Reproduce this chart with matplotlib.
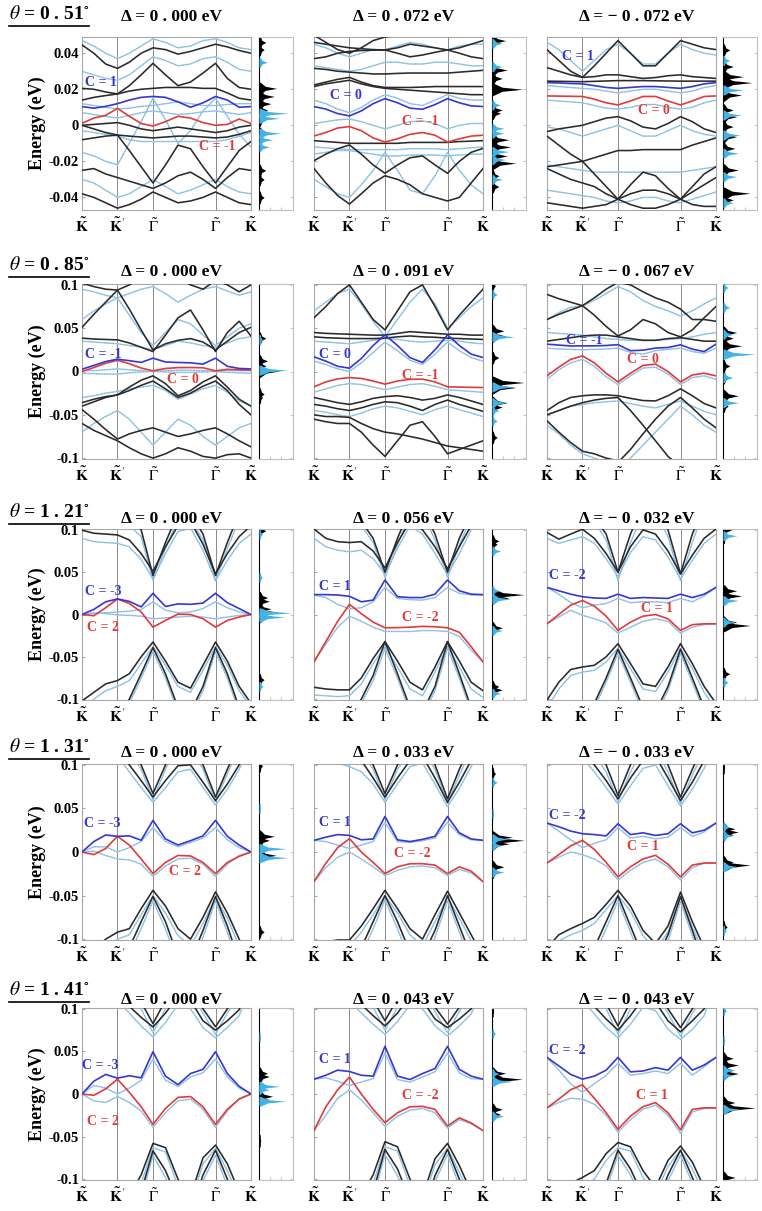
import matplotlib.pyplot as plt
from matplotlib.lines import Line2D

plt.rcParams['font.family'] = ['Liberation Serif', 'DejaVu Serif']
plt.rcParams['mathtext.fontset'] = 'stix'

# ---------------- data (energies in meV) ----------------
k_path = [0, 0.07, 0.14, 0.21, 0.28, 0.35, 0.42, 0.494, 0.568, 0.642, 0.716, 0.79, 0.86, 0.93, 1.0]
k_ticks = [0, 0.21, 0.42, 0.79, 1.0]
k_labels = [r'$\mathbf{\tilde{K}}$', r"$\mathbf{\tilde{K}}^{\prime}$", r'$\tilde{\Gamma}$',
            r'$\tilde{\Gamma}$', r'$\mathbf{\tilde{K}}$']

thetas = ['0 . 51', '0 . 85', '1 . 21', '1 . 31', '1 . 41']
deltas = [['0 . 000', '0 . 072', '\u2212 0 . 072'],
          ['0 . 000', '0 . 091', '\u2212 0 . 067'],
          ['0 . 000', '0 . 056', '\u2212 0 . 032'],
          ['0 . 000', '0 . 033', '\u2212 0 . 033'],
          ['0 . 000', '0 . 043', '\u2212 0 . 043']]

ylims = [(-47, 49), (-101, 101), (-101, 101), (-101, 101), (-101, 101)]
yticks_small = [-40, -20, 0, 20, 40]
ylabels_small = ['-0.04', '-0.02', '0', '0.02', '0.04']
yticks_big = [-100, -50, 0, 50, 100]
ylabels_big = ['-0.1', '-0.05', '0', '0.05', '0.1']

# ---- theta = 0.51 ----
p11_blue = [10.4, 9.5, 10.5, 12, 14, 15.5, 16, 15.5, 13, 10, 12.5, 16, 14, 10, 10.4]
p11_red = [1.1, 4, 5.5, 9.4, 5, 1, -0.4, 2, 5, 4, 1.5, 0, 0.5, 3.5, 1]
p11_black = [[44.6, 40, 34, 31.6, 35, 40, 43, 42, 39.5, 41, 43, 45, 43.5, 41.5, 40],
             [20.5, 20, 18.5, 17.4, 22, 28, 34.4, 28, 22, 24, 29, 34.4, 26, 21, 20],
             [14, 15.5, 16.5, 17.4, 19, 20, 20.5, 21, 21, 21, 20.5, 20.5, 18, 15, 14],
             [0, -2, -4, -5.4, -6, -6.5, -7, -6.5, -6, -6, -6.5, -7, -6.5, -5, -3],
             [0, 0.5, 1, 1.5, 0, -2, -3, -2, -1, -2, -3, -4, -3, -1, 0],
             [-8, -7, -6, -5.4, -14, -23, -32, -22, -11, -13, -23, -32, -23, -14, -9],
             [-25, -24, -27, -29, -31, -33, -35, -32, -28, -26, -30, -35, -29, -24, -25],
             [-38, -40, -43, -46, -44, -41, -37, -40, -43, -42, -40, -37, -40, -43, -44]]
p11_light = [[47, 44, 40, 37, 40, 44, 48, 46, 43, 44, 47, 48, 46, 43, 42],
             [30, 28, 26, 25, 28, 33, 38, 36, 33, 34, 37, 38, 35, 31, 30],
             [12, 11, 10, 9, 9.5, 10.5, 11, 12, 13, 12, 11, 11, 11.5, 12, 12],
             [7, 6, 5, 4, 5.5, 7, 8, 7, 6, 6.5, 7.5, 8, 7, 6, 7],
             [-3, -4, -5, -6, -8, -9, -9, -9, -9, -9, -9, -9, -8, -6, -4],
             [-15, -17, -20, -22, -10, 2, 15, 3, -10, -3, 8, 15, 5, -5, -12],
             [-30, -32, -36, -40, -38, -34, -30, -34, -38, -36, -33, -30, -34, -37, -38]]
p11_labels = [('C = 1', 0.02, 24, 'left'), ('C = -1', 0.8, -12, 'center')]
p11_dos_black = [(46, .2), (42, .15), (20.5, .52), (16, .45), (12, .35), (8.5, .25), (3, .2),
                 (-4.4, .35), (-8, .2), (-25, .2), (-30, .15), (-40, .15)]
p11_dos_blue = [(35, .25), (6.7, .85), (3.9, .6), (-4.4, .65), (-8, .4), (-12, .3)]
p11_gaps = []

p12_blue = [10.4, 9, 6.5, 5.2, 8, 12, 14.8, 12.5, 9.5, 8.9, 11.5, 14.8, 12.5, 10.8, 10.4]
p12_red = [-5.9, -4, -1.5, -0.7, -3, -7, -9.3, -7.5, -5, -4, -5.5, -9.3, -7.5, -6, -5.5]
p12_black = [[50, 46, 42, 40, 43, 47, 49, 50, 50, 50, 50, 50, 50, 50, 50],
             [37, 38, 40, 41, 41.5, 41.7, 41.8, 43, 45, 44, 43, 41.8, 43, 45, 47],
             [46, 45, 44, 43, 42.5, 42, 41.8, 40, 38, 39, 40.5, 41.8, 40, 38, 37],
             [31.6, 31, 30, 29.5, 29, 28.5, 28.5, 28.8, 29, 29, 29, 29, 29.5, 30, 30.5],
             [22.4, 24, 25.5, 26.6, 24, 22, 21, 21, 21, 21.2, 21.5, 21.5, 21.5, 21.5, 21.5],
             [21.5, 23, 24, 25, 23, 21.5, 20.5, 20, 19.5, 19, 18.5, 18, 17.5, 17, 17],
             [-8.5, -9, -9.5, -10, -10, -10, -10, -10, -9.5, -9.5, -9.5, -9.5, -9, -8.8, -8.5],
             [-19.6, -16, -13, -10.9, -16, -22, -26.6, -22, -18, -17, -22, -26.6, -20, -15, -12.8],
             [-24, -32, -39, -43.7, -38, -32, -28, -30, -33, -38, -40, -42, -40, -32, -24]]
p12_light = [[45, 43, 40, 38, 40, 42, 41.8, 44, 46, 45, 43, 41.8, 44, 45, 45],
             [33, 32, 31, 30, 31, 33, 35, 35, 34, 34, 35, 35, 34, 33, 33],
             [14, 12, 9, 7, 10, 14, 17, 15, 12, 11, 14, 17, 15, 14, 14],
             [1, 2, 3, 3.5, 2, 0, -2, 0, 2, 2.5, 1, -2, 0, 1, 1],
             [-12, -12.5, -13, -13.5, -13.5, -13.5, -13.5, -13.5, -13, -13, -13, -13.5, -13, -12.5, -12],
             [-16, -15, -14, -14, -15, -16, -17, -17, -16.5, -16.5, -16.5, -17, -16.5, -16, -16],
             [-30, -34, -38, -40, -33, -25, -15, -25, -36, -38, -28, -15, -25, -33, -38]]
p12_labels = [('C = 0', 0.095, 16.3, 'left'), ('C = -1', 0.63, 2, 'center')]
p12_dos_black = [(47, .4), (30.7, .45), (26, .3), (20, .9), (8.5, .3), (6.7, .25), (-8, .5),
                 (-12, .55), (-17, .45), (-21, .7), (-28, .2), (-34, .2)]
p12_dos_blue = [(45.5, .3), (32.6, .3), (11.3, .25), (-1.7, .35), (-4.4, .35), (-14.6, .5),
                (-19, .4), (-30, .3)]
p12_gaps = []

p13_blue = [23.7, 23.5, 23.2, 23, 22, 21, 20.5, 21, 21.5, 21.5, 21, 20.5, 21.5, 23, 23.7]
p13_red = [16.3, 16.2, 16.1, 16, 14.5, 12.5, 11.3, 13.5, 16, 16, 13.5, 11.3, 13.5, 16, 16.3]
p13_black = [[42, 36, 30, 26.6, 33, 40, 47, 40, 33, 33, 40, 47, 45, 43, 42],
             [32, 30, 28, 26.6, 27, 28, 28, 27, 26, 26.5, 27.5, 28, 27, 26.5, 26],
             [24.5, 24.4, 24.3, 24.2, 24.4, 24.6, 24.8, 24.8, 24.8, 24.7, 24.6, 24.5, 24.5, 24.5, 24.5],
             [-3.5, -2, -1, 0, 2, 4, 4.8, 2.5, -1, -2, 1, 4.8, 2, -2, -4],
             [-6, -11, -16, -20, -18, -16, -14, -14, -13.5, -13.5, -13.5, -13.5, -11, -9, -7],
             [-23, -22, -21, -20, -27, -34, -41, -33, -26, -28, -35, -41, -34, -27, -23],
             [-24, -27, -30, -32, -34, -38, -41, -38, -36, -36, -38, -41, -37, -33, -29],
             [-43, -44, -45, -46, -45, -44, -41, -44, -46, -46, -44, -41, -44, -45, -45]]
p13_light = [[46, 42, 36, 30, 36, 42, 45, 40, 34, 34, 40, 45, 42, 40, 39],
             [22, 21.5, 21, 20.5, 20, 19, 18, 19, 20, 20, 19, 18, 19, 21, 22],
             [14, 13.5, 13, 12.5, 11, 9.5, 9, 10, 11.5, 11.5, 10, 9, 10, 12.5, 14],
             [-1, -2, -4, -6, -4, -2, 0, -3, -6, -6, -3, 0, -3, -5, -6],
             [-22, -23, -24, -25, -26, -26, -26, -26, -26, -26, -26, -26, -25, -24, -23],
             [-36, -37, -38, -39, -40, -42, -43, -42, -40, -40, -42, -43, -41, -39, -37]]
p13_labels = [('C = 1', 0.09, 38, 'left'), ('C = 0', 0.63, 8, 'center')]
p13_dos_black = [(41.8, .2), (32.6, .3), (27, .6), (23.7, .85), (16.8, .55), (8.5, .3), (4.8, .4),
                 (-0.7, .3), (-6.3, .4), (-12.8, .35), (-24.8, .45), (-37.7, .8), (-41.4, .3)]
p13_dos_blue = [(36, .2), (19.6, .6), (5.7, .55), (-5.4, .5), (-15.5, .45), (-28.5, .4), (-43, .3)]
p13_gaps = []

# ---- theta = 0.85 ----
p21_blue = [2.7, 7, 11.5, 14.2, 12.5, 10.5, 15.4, 11, 10.4, 10, 8.5, 15.4, 6, 3.5, 3]
p21_red = [0, 4.5, 9.5, 13, 9, 4, 0.8, 3.5, 4.5, 4.6, 4.3, 0.8, 2.5, 2, 1.5]
p21_black = [[38.5, 37.5, 37, 36.5, 33, 28, 23, 42, 62, 71, 48, 23, 45, 58, 41],
             [51, 66, 80, 94, 72, 48, 25, 32, 36, 38, 34, 25, 35, 45, 51],
             [102, 98, 95, 94, 100, 108, 110, 110, 108, 100, 95, 105, 100, 92, 100],
             [-36, -32, -29, -27, -18, -10, -5, -14, -28, -22, -12, -5, -18, -32, -40],
             [-40, -35, -30, -27, -22, -16, -11, -20, -30, -25, -17, -11, -22, -38, -50],
             [-44, -55, -67, -78, -72, -68, -65, -70, -75, -72, -68, -65, -72, -80, -87],
             [-60, -68, -74, -80, -88, -95, -100, -95, -88, -92, -98, -100, -96, -95, -100]]
p21_light = [[-2, -2.5, -3, -3, -1.5, -0.5, 0, -0.5, -1, -1, -0.5, 0, -1, -1.5, -2],
             [1, 1, 2, 3, 2, 1, 0, 1, 1.5, 1.5, 1, 0, 1, 1, 1],
             [35, 34, 33, 32, 30, 28, 25, 30, 35, 33, 30, 28, 33, 38, 40],
             [60, 70, 78, 85, 65, 45, 30, 45, 60, 55, 42, 30, 40, 50, 55],
             [-30, -28, -25, -23, -20, -18, -16, -22, -32, -26, -20, -16, -24, -34, -40],
             [95, 92, 88, 85, 90, 95, 98, 90, 80, 88, 95, 98, 93, 88, 92],
             [-70, -60, -52, -45, -55, -70, -85, -70, -55, -62, -75, -85, -75, -65, -60]]
p21_labels = [('C = -1', 0.02, 19.2, 'left'), ('C = 0', 0.6, -8.8, 'center')]
p21_dos_black = [(38.5, .2), (12.3, .25), (6.5, .2), (0.5, .6), (-26, .15), (-30, .1)]
p21_dos_blue = [(37, .1), (1.5, .85)]
p21_gaps = []

p22_blue = [16.9, 12, 6, 3.8, 15, 30, 42.3, 30, 16, 10.4, 25, 42.3, 30, 20, 16.2]
p22_red = [-17.7, -12, -8.5, -7, -8, -11, -14.6, -11, -9, -8.8, -12, -17.7, -18, -18.3, -18.5]
p22_black = [[45, 44, 43.5, 43, 42.5, 42, 42, 44, 46, 45, 44, 43, 43, 42, 42],
             [40, 39, 38.5, 38, 38, 38, 38.5, 40, 41, 40, 39.5, 38.5, 38, 37.5, 37],
             [62, 75, 90, 100, 80, 60, 48, 70, 92, 100, 75, 48, 65, 80, 95],
             [-30, -33, -36, -38, -35, -31, -29, -28, -30, -33, -31, -27, -30, -34, -38],
             [-38, -40, -43, -45, -42, -38, -35, -36, -40, -45, -38, -33, -38, -42, -46],
             [-55, -58, -60, -60, -70, -85, -98, -80, -62, -58, -75, -95, -90, -85, -80],
             [-50, -52, -52, -53, -60, -66, -70, -72, -75, -78, -82, -86, -88, -90, -92]]
p22_light = [[35, 34, 33, 32, 34, 36, 38, 37, 35, 34, 35, 36, 35, 33, 32],
             [12, 8, 3, 0, 10, 22, 34, 24, 13, 8, 20, 34, 24, 16, 12],
             [-24, -20, -16, -14, -15, -18, -21, -18, -15, -14, -17, -21, -22, -23, -24],
             [-45, -47, -50, -52, -48, -43, -40, -42, -46, -50, -44, -40, -44, -48, -52],
             [70, 80, 90, 95, 78, 58, 40, 60, 80, 95, 78, 50, 62, 75, 85]]
p22_labels = [('C = 0', 0.03, 20, 'left'), ('C = -1', 0.63, -5, 'center')]
p22_dos_black = [(99, .1), (47, .35), (41, .4), (16, .2), (-12.7, .95), (-18.5, .7), (-36, .45),
                 (-41, .3), (-76, .15)]
p22_dos_blue = [(89, .15), (40, .65), (-17.7, .65), (-36, .45), (-45, .2), (-57, .15)]
p22_gaps = []

p23_blue = [31.5, 30.5, 29.5, 29.6, 29.6, 30, 31, 24, 24.6, 27, 27.7, 30.8, 25.8, 23, 31.5]
p23_red = [-5, 5, 14, 18, 10, -2, -12, -2, 7, 8.5, 0, -12, -4, -2, -5]
p23_black = [[35, 37, 39, 41, 42, 42, 40, 38, 36, 36, 38, 39, 37, 35, 35],
             [89, 84, 80, 76, 65, 52, 41, 48, 60, 55, 45, 40, 48, 62, 75],
             [60, 66, 71, 76, 85, 95, 103, 100, 92, 85, 80, 72, 60, 60, 58],
             [-45, -36, -30, -28, -27, -27, -28, -31, -33.5, -34, -28, -20, -28, -37, -42],
             [-50, -45, -40, -36, -33, -31, -30, -45, -62, -80, -98, -110, -110, -110, -110],
             [-110, -110, -110, -110, -110, -110, -105, -90, -72, -55, -40, -30, -42, -55, -65],
             [-57, -70, -82, -92, -95, -100, -103, -105, -110, -110, -110, -110, -110, -110, -110]]
p23_light = [[27, 26, 25.5, 25, 25.5, 26, 27, 22, 20, 24, 25.5, 27, 23, 21, 27],
             [-9, 2, 10, 14, 6, -6, -15, -5, 4, 5, -3, -15, -7, -5, -9],
             [45, 44, 43, 42, 40, 38, 37, 36, 36, 36, 37, 38, 40, 43, 45],
             [-50, -45, -40, -38, -36, -35, -34, -37, -40, -42, -38, -34, -40, -46, -50],
             [60, 68, 74, 76, 82, 90, 98, 92, 82, 75, 70, 64, 70, 78, 85],
             [-62, -72, -85, -95, -100, -105, -110, -100, -85, -70, -55, -40, -50, -62, -70]]
p23_labels = [('C = -1', 0.11, 35.4, 'left'), ('C = 0', 0.57, 14.2, 'center')]
p23_dos_black = [(45, .4), (38.5, .3), (29.6, .55), (6.5, .2), (-7, .2), (-28, .45), (-40, .15)]
p23_dos_blue = [(97, .15), (74, .2), (43, .3), (20, .95), (-7, .3), (-36, .45)]
p23_gaps = []

# ---- theta = 1.21 ----
p31_blue = [0, 6, 15, 18.4, 15.5, 9, 25, 9.5, 12.5, 12, 13.5, 25, 14, 7, 0]
p31_red = [0, -1.5, 8, 18.4, 13, 3, -15, -7, 0.5, 0, -5, -15, -7, -3, 0]
p31_black = [[99.6, 96, 95, 94, 88, 72, 51, 80, 105, 110, 83, 48, 72, 92, 105],
             [130, 130, 125, 120, 115, 100, 46, 85, 120, 120, 95, 46, 85, 120, 130],
             [-102, -92, -82, -78, -70, -50, -32.5, -55, -80, -87, -60, -32.5, -55, -85, -105],
             [-130, -130, -125, -120, -100, -70, -39, -70, -110, -115, -85, -39, -70, -110, -130]]
p31_light = [[0, 1, 2, 3, 4, 6, 15, 5, 2, 3, 7, 15, 8, 3, 0],
             [0, 2, 1, -0.5, -1, -2, -5, -4, -3, -2, -3, -5, -3, -1, 0],
             [90, 86, 85, 84, 80, 65, 42, 72, 98, 102, 76, 40, 64, 84, 95],
             [120, 120, 115, 110, 105, 92, 40, 78, 112, 112, 88, 40, 78, 112, 120],
             [-110, -100, -90, -85, -78, -58, -38, -60, -85, -92, -66, -38, -60, -90, -110],
             [-140, -140, -130, -125, -105, -75, -44, -75, -115, -120, -90, -44, -75, -115, -140]]
p31_labels = [('C = -3', 0.02, 27.4, 'left'), ('C = 2', 0.03, -15, 'left')]
p31_dos_black = [(99, .2), (20, .25), (15.7, .3), (6.7, .35), (2.7, .55), (-2.4, .4), (-77, .15)]
p31_dos_blue = [(95, .1), (44, .1), (2, .95), (-3, .75), (-85, .12)]
p31_gaps = [(26, 40), (-32, -16)]

p32_blue = [23.5, 23.5, 23, 21.5, 15, 17, 40.8, 21, 20, 20, 24, 40.8, 28, 24, 23.5]
p32_red = [-56, -32, -8, 12, 1, -9, -15.7, -15.5, -15, -14, -14.5, -15.7, -21, -38, -56]
p32_black = [[101, 90, 86, 85, 86, 75, 55, 85, 110, 100, 80, 54, 80, 105, 120],
             [130, 130, 125, 120, 110, 90, 50, 90, 125, 125, 95, 50, 90, 120, 130],
             [-86, -88, -89, -89, -75, -52, -32, -55, -80, -89, -62, -32, -55, -80, -90],
             [-130, -130, -125, -120, -100, -72, -32, -70, -110, -115, -85, -32, -70, -110, -130]]
p32_light = [[23, 20, 12, 6.7, 8, 15, 32, 19, 17.5, 17, 20, 32, 25, 23, 23],
             [-56, -35, -15, -2, -8, -15, -20, -20, -20, -19, -19, -20, -26, -42, -56],
             [90, 80, 76, 74, 76, 66, 48, 78, 105, 95, 72, 47, 72, 100, 115],
             [125, 125, 120, 115, 105, 85, 44, 82, 120, 120, 88, 44, 82, 115, 125],
             [-95, -96, -97, -96, -82, -58, -38, -62, -88, -96, -68, -38, -62, -88, -98],
             [-140, -140, -130, -125, -105, -78, -40, -75, -115, -120, -90, -40, -75, -115, -140]]
p32_labels = [('C = 1', 0.03, 33, 'left'), ('C = -2', 0.63, -3, 'center')]
p32_dos_black = [(87, .2), (83, .15), (23.5, .95), (19.6, .5), (-15.7, .3), (-85, .2), (-89, .3)]
p32_dos_blue = [(75, .25), (28, .2), (18.4, .55), (-19, .3), (-93, .25)]
p32_gaps = [(42, 46)]

p33_blue = [32, 28, 24, 21, 19.5, 19, 24, 19, 20, 19.5, 19, 24, 20, 24, 32]
p33_red = [-11, 0, 11, 16.5, 10, -2, -18.8, -9, -2, 0, -5, -18.8, -12, -11, -11]
p33_black = [[97, 89, 95, 100.7, 90, 72, 50, 80, 100, 95, 75, 48, 70, 90, 101],
             [130, 130, 130, 130, 115, 95, 50, 95, 130, 130, 100, 48, 95, 130, 130],
             [-101, -80, -65, -62, -60, -50, -34.5, -58, -82, -85, -62, -34.5, -58, -85, -105],
             [-140, -140, -135, -125, -105, -75, -41, -75, -110, -115, -85, -41, -75, -110, -140]]
p33_light = [[32, 24, 14, 8, 11, 13, 19, 14, 15, 15, 14, 19, 15, 22, 32],
             [-11, -3, 5, -1, -5, -10, -22, -15, -8, -5, -8, -22, -15, -12, -11],
             [90, 84, 88, 92, 84, 66, 45, 73, 92, 88, 68, 42, 64, 84, 95],
             [125, 125, 125, 125, 110, 88, 40, 85, 120, 120, 92, 40, 85, 125, 125],
             [-110, -88, -72, -68, -66, -56, -40, -64, -88, -91, -68, -40, -64, -92, -112],
             [-150, -150, -140, -130, -110, -80, -46, -80, -115, -120, -90, -46, -80, -115, -150]]
p33_labels = [('C = -2', 0.01, 45.9, 'left'), ('C = 1', 0.65, 6.7, 'center')]
p33_dos_black = [(100, .25), (91, .1), (28, .4), (22, .55), (-9, .4), (-13, .8), (-70, .2)]
p33_dos_blue = [(93, .4), (16.5, .45), (-9, .35), (-80, .15)]
p33_gaps = [(33, 40), (-34, -22)]

# ---- theta = 1.31 ----
p41_blue = [0, 12, 19.5, 18, 18.5, 13.5, 36.3, 15, 8, 13, 18.5, 36.3, 18, 8, 0]
p41_red = [0, -3, 4, 18, 8, -8, -24.8, -12, -4, -4.5, -12, -24.8, -12, -5, 0]
p41_black = [[140, 130, 125, 118, 100, 82, 63, 82, 99, 100, 80, 59, 78, 100, 130],
             [150, 150, 150, 140, 120, 100, 67, 100, 130, 125, 100, 63, 95, 125, 150],
             [-130, -115, -100, -92, -88, -65, -44, -62, -88, -100, -75, -45.8, -70, -100, -130],
             [-150, -150, -140, -130, -110, -80, -51, -80, -120, -125, -90, -51, -85, -125, -150]]
p41_light = [[0, 6, 6, 0, 5, 12, 28, 12, 6, 11, 16, 28, 14, 5, 0],
             [0, 1, -4, -8, -9, -14, -28, -16, -8, -7, -14, -28, -14, -4, 0],
             [130, 120, 115, 110, 92, 74, 57, 74, 92, 95, 74, 54, 72, 95, 125],
             [145, 145, 145, 135, 115, 95, 60, 95, 125, 120, 95, 58, 90, 120, 145],
             [-140, -125, -110, -100, -95, -72, -50, -70, -96, -108, -82, -52, -76, -108, -140],
             [-160, -160, -150, -140, -118, -88, -56, -88, -128, -132, -98, -56, -92, -132, -160]]
p41_labels = [('C = -3', 0.01, 33.2, 'left'), ('C = 2', 0.61, -22.9, 'center')]
p41_dos_black = [(99, .1), (18, .45), (13.4, .3), (3.8, .3), (-3.8, .5), (-91.6, .15)]
p41_dos_blue = [(50, .05), (3.8, .8), (-6.5, .85)]
p41_gaps = [(37, 54), (-44, -29)]

p42_blue = [13.4, 17, 20, 19, 14, 15, 40.8, 14, 12, 14.5, 18, 40.8, 22, 15, 13.4]
p42_red = [-34, -13, 5, 15.3, 0, -12, -24.8, -17, -13.5, -13.4, -15, -24.8, -17, -22, -34]
p42_black = [[150, 140, 130, 125, 105, 85, 63, 85, 105, 110, 85, 57, 80, 105, 140],
             [160, 160, 150, 140, 120, 100, 67, 100, 120, 125, 100, 61, 95, 125, 160],
             [-105, -103, -101, -101, -85, -65, -44, -65, -88, -100, -72, -45, -70, -95, -120],
             [-150, -150, -140, -130, -110, -80, -50, -80, -115, -120, -90, -50, -85, -120, -150]]
p42_light = [[13.4, 12, 8, 4, 8, 12, 34, 12, 11, 13, 16, 34, 20, 14, 13.4],
             [-34, -18, -6, 0, -8, -17, -27, -21, -17, -16, -18, -27, -20, -24, -34],
             [120, 108, 102, 98, 92, 78, 57, 78, 98, 102, 78, 52, 73, 98, 125],
             [155, 155, 145, 135, 115, 95, 60, 95, 115, 118, 95, 56, 88, 118, 155],
             [-115, -112, -110, -108, -92, -72, -50, -70, -95, -108, -80, -52, -76, -102, -130],
             [-160, -160, -150, -140, -118, -88, -55, -88, -125, -130, -98, -56, -92, -130, -160]]
p42_labels = [('C = 1', 0.03, 34.4, 'left'), ('C = -2', 0.58, -1.9, 'center')]
p42_dos_black = [(90, .1), (17, .6), (13.4, .95), (9.5, .5), (-17, .35), (-23, .2)]
p42_dos_blue = [(80, .15), (44, .05), (15, .5), (7.6, .3), (-23, .35)]
p42_gaps = [(41, 52), (-44, -35)]

p43_blue = [33.2, 29, 24, 21, 20, 18.5, 32.4, 20, 22, 19, 21, 32.4, 22, 25, 33.2]
p43_red = [-12.6, -3, 7, 13.4, 3, -12, -28.6, -17, -8, -3.8, -14, -28.6, -15, -12.6, -12.6]
p43_black = [[140, 130, 120, 115, 100, 82, 61, 85, 105, 110, 85, 59, 80, 105, 140],
             [160, 160, 150, 140, 120, 100, 65, 100, 125, 125, 100, 63, 95, 125, 160],
             [-110, -95, -88, -82, -75, -60, -44, -62, -90, -105, -85, -46, -80, -110, -130],
             [-150, -150, -140, -130, -110, -80, -50, -85, -120, -125, -95, -51, -90, -130, -150]]
p43_light = [[33.2, 24, 14, 5, 10, 14, 28, 16, 18, 15, 17, 28, 18, 23, 33.2],
             [-12.6, -6, 0, -3, -8, -16, -32, -21, -12, -8, -17, -32, -18, -13, -12.6],
             [130, 120, 112, 108, 92, 74, 55, 76, 96, 100, 76, 53, 72, 96, 130],
             [150, 150, 142, 132, 112, 92, 58, 92, 118, 118, 92, 56, 88, 118, 150],
             [-120, -102, -95, -90, -82, -66, -50, -68, -96, -112, -92, -52, -86, -118, -140],
             [-160, -160, -150, -140, -118, -88, -56, -92, -128, -132, -102, -57, -96, -138, -160]]
p43_labels = [('C = -2', 0.01, 42, 'left'), ('C = 1', 0.57, 6.5, 'center')]
p43_dos_black = [(97, .05), (26.7, .35), (23, .45), (20, .3), (-11.5, .3), (-15, .8), (-86, .12)]
p43_dos_blue = [(28.6, .2), (19, .3), (-17, .45), (-90, .1)]
p43_gaps = [(34, 52), (-43, -30)]

# ---- theta = 1.41 ----
p51_blue = [0, 15, 23, 18.6, 21.5, 19, 49.6, 21, 11, 24, 29, 49.6, 24, 9, 0]
p51_red = [0, -1.5, 6, 17.4, 2, -15, -35.7, -17, -4, -3, -15, -35.7, -18, -6, 0]
p51_black = [[160, 150, 135, 120, 103, 90, 78.7, 95, 115, 110, 86, 75, 86, 99, 140],
             [180, 175, 165, 155, 130, 108, 82.6, 110, 130, 125, 100, 79, 100, 120, 165],
             [-160, -150, -140, -130, -120, -95, -58, -63, -100, -120, -75, -60, -82, -115, -150],
             [-180, -180, -170, -160, -140, -115, -66.7, -90, -125, -140, -95, -66, -100, -135, -170]]
p51_light = [[0, 10, 7, 0, 7, 16, 41, 16, 9, 20, 25, 41, 20, 7, 0],
             [0, -8, -10, -3, -10, -20, -39, -22, -8, -6, -18, -39, -20, -5, 0],
             [150, 140, 125, 110, 95, 80, 67, 84, 105, 100, 78, 66, 78, 92, 130],
             [175, 170, 160, 150, 125, 100, 72, 100, 125, 120, 95, 70, 95, 115, 160],
             [-170, -160, -150, -140, -130, -105, -63, -68, -108, -128, -82, -64, -90, -122, -160],
             [-190, -190, -180, -170, -150, -122, -72, -98, -132, -148, -102, -72, -108, -142, -180]]
p51_labels = [('C = -3', 0.0, 34, 'left'), ('C = 2', 0.03, -31.8, 'left')]
p51_dos_black = [(24.4, .25), (20.5, .3), (-2.7, .4), (-6.6, .3), (-55, .05)]
p51_dos_blue = [(67, .05), (9, .6), (5, .3), (-8.5, .8)]
p51_gaps = [(50, 66), (-56, -40)]

p52_blue = [17.4, 22, 28, 26.4, 22, 21, 56, 21, 17, 24, 30, 56, 29, 21, 17.4]
p52_red = [-43, -15, 5, 19.8, 0, -18, -33.7, -22, -15, -14.5, -18, -37.6, -28, -34, -43]
p52_black = [[160, 150, 135, 120, 105, 92, 80, 95, 115, 110, 88, 78, 88, 100, 140],
             [180, 175, 165, 155, 132, 110, 86, 112, 132, 125, 102, 82, 102, 122, 165],
             [-160, -150, -140, -130, -120, -95, -56, -62, -100, -120, -76, -58, -84, -115, -150],
             [-180, -180, -170, -160, -140, -115, -65, -88, -125, -140, -96, -65, -100, -135, -170]]
p52_light = [[17.4, 19, 15, 10, 14, 18, 48, 17, 14, 20, 26, 48, 25, 18, 17.4],
             [-43, -25, -5, 5, -7, -22, -38, -26, -19, -17, -22, -40, -30, -35, -43],
             [150, 140, 125, 110, 95, 82, 70, 85, 105, 100, 80, 68, 80, 94, 130],
             [175, 170, 160, 150, 127, 102, 75, 102, 127, 120, 97, 72, 97, 117, 160],
             [-170, -160, -150, -140, -130, -105, -62, -67, -108, -128, -83, -64, -92, -122, -160],
             [-190, -190, -180, -170, -150, -122, -71, -96, -132, -148, -103, -71, -108, -142, -180]]
p52_labels = [('C = 1', 0.03, 40.7, 'left'), ('C = -2', 0.63, -1.9, 'center')]
p52_dos_black = [(98, .05), (24.4, .4), (20.5, .3), (17.4, .9), (-18, .3), (-24, .25)]
p52_dos_blue = [(71, .1), (24, .2), (14.7, .6), (-26, .35)]
p52_gaps = [(57, 68), (-55, -44)]

p53_blue = [43, 33, 23, 17.4, 21, 28, 43, 26, 27, 31, 28, 43, 28, 34, 43]
p53_red = [-16.3, -6, 5, 10.9, -5, -22, -41.5, -26, -15, -10, -22, -42, -18, -16.3, -16.3]
p53_black = [[160, 150, 135, 120, 103, 88, 75, 92, 112, 108, 86, 73, 86, 100, 140],
             [180, 175, 165, 155, 130, 106, 80, 108, 128, 122, 100, 78, 100, 120, 165],
             [-140, -120, -105, -98, -90, -70, -57, -62, -90, -110, -78, -61, -80, -110, -145],
             [-170, -170, -160, -150, -130, -105, -66, -88, -120, -135, -95, -66, -98, -132, -165]]
p53_light = [[43, 28, 12, 2, 12, 22, 36, 22, 24, 27, 24, 36, 22, 32, 43],
             [-16.3, -10, -5, -6, -12, -25, -45, -30, -18, -13, -25, -46, -21, -17, -16.3],
             [150, 140, 125, 110, 94, 78, 66, 82, 102, 98, 76, 64, 76, 92, 130],
             [175, 170, 160, 150, 125, 100, 70, 100, 122, 118, 95, 68, 95, 115, 160],
             [-150, -130, -115, -108, -100, -78, -63, -67, -98, -118, -85, -66, -88, -118, -155],
             [-180, -180, -170, -160, -140, -112, -72, -95, -128, -142, -102, -72, -105, -140, -175]]
p53_labels = [('C = -2', 0.01, 51.5, 'left'), ('C = 1', 0.62, -1.9, 'center')]
p53_dos_black = [(42, .3), (34, .45), (28, .3), (24, .45), (-10, .35), (-16.3, .95), (-98, .35)]
p53_dos_blue = [(98, .1), (63, .05), (28, .35), (22, .3), (-18, .5)]
p53_gaps = [(44, 64), (-56, -43)]

panels = [
    [(p11_blue, p11_red, p11_black, p11_light, p11_labels, p11_dos_black, p11_dos_blue, p11_gaps),
     (p12_blue, p12_red, p12_black, p12_light, p12_labels, p12_dos_black, p12_dos_blue, p12_gaps),
     (p13_blue, p13_red, p13_black, p13_light, p13_labels, p13_dos_black, p13_dos_blue, p13_gaps)],
    [(p21_blue, p21_red, p21_black, p21_light, p21_labels, p21_dos_black, p21_dos_blue, p21_gaps),
     (p22_blue, p22_red, p22_black, p22_light, p22_labels, p22_dos_black, p22_dos_blue, p22_gaps),
     (p23_blue, p23_red, p23_black, p23_light, p23_labels, p23_dos_black, p23_dos_blue, p23_gaps)],
    [(p31_blue, p31_red, p31_black, p31_light, p31_labels, p31_dos_black, p31_dos_blue, p31_gaps),
     (p32_blue, p32_red, p32_black, p32_light, p32_labels, p32_dos_black, p32_dos_blue, p32_gaps),
     (p33_blue, p33_red, p33_black, p33_light, p33_labels, p33_dos_black, p33_dos_blue, p33_gaps)],
    [(p41_blue, p41_red, p41_black, p41_light, p41_labels, p41_dos_black, p41_dos_blue, p41_gaps),
     (p42_blue, p42_red, p42_black, p42_light, p42_labels, p42_dos_black, p42_dos_blue, p42_gaps),
     (p43_blue, p43_red, p43_black, p43_light, p43_labels, p43_dos_black, p43_dos_blue, p43_gaps)],
    [(p51_blue, p51_red, p51_black, p51_light, p51_labels, p51_dos_black, p51_dos_blue, p51_gaps),
     (p52_blue, p52_red, p52_black, p52_light, p52_labels, p52_dos_black, p52_dos_blue, p52_gaps),
     (p53_blue, p53_red, p53_black, p53_light, p53_labels, p53_dos_black, p53_dos_blue, p53_gaps)],
]

# ---------------- layout (pixels) ----------------
W, H = 762.0, 1211.0
row_top = [37, 284, 529, 764, 1008]
row_bot = [210, 459, 700, 940, 1180]
theta_y = [14, 265, 512, 747, 990]
title_y = [17, 272, 519, 753, 1000]
band_x = [82, 314, 547]
dos_x = [259, 492, 723]
band_w, dos_w = 169, 34

c_black = '#2a2a2a'
c_light = '#a8d0ec'
c_light_dash = '#6aa8d6'
c_blue = '#3636d2'
c_red = '#e23a3a'
c_dos_blue = '#45b2e6'
c_vline = '#8a8a8a'
c_spine = '#a8a8a8'


def dos_peaks(ax, peaks, color, w, base, z):
    for e, h in peaks:
        ys = [e - 3 * w, e - w, e, e + w, e + 3 * w]
        xs = [base, base + 0.3 * (h - base), h, base + 0.3 * (h - base), base]
        ax.fill_betweenx(ys, 0, xs, color=color, lw=0, zorder=z)


fig = plt.figure(figsize=(7.62, 12.11), dpi=100)

for r in range(5):
    lo, hi = ylims[r]
    yt = yticks_small if r == 0 else yticks_big
    yl = ylabels_small if r == 0 else ylabels_big
    bottom = 1 - row_bot[r] / H
    height = (row_bot[r] - row_top[r]) / H

    fig.text(9 / W, 1 - theta_y[r] / H, r'$\theta$ = ' + thetas[r] + r'$^{\circ}$',
             fontsize=14, fontweight='bold', va='center', ha='left')
    uy = 1 - (theta_y[r] + 12) / H
    fig.add_artist(Line2D([9 / W, 89 / W], [uy, uy], color='black', lw=1.2))

    for c in range(3):
        blue, red, blacks, lights, labels, dos_b, dos_l, gaps = panels[r][c]
        ax = fig.add_axes([band_x[c] / W, bottom, band_w / W, height])
        for kv in k_ticks[1:4]:
            ax.axvline(kv, color=c_vline, lw=0.7, zorder=1)
        for band in lights:
            ax.plot(k_path, band, color=c_light, lw=1.1, zorder=2)
            ax.plot(k_path, band, color=c_light_dash, lw=0.5, ls=(0, (2, 2)), zorder=2.1)
        for band in blacks:
            ax.plot(k_path, band, color=c_black, lw=1.15, zorder=3)
        ax.plot(k_path, red, color=c_red, lw=1.2, zorder=4)
        ax.plot(k_path, blue, color=c_blue, lw=1.2, zorder=4)
        for txt, kx, ey, ha in labels:
            col = c_blue if txt == labels[0][0] else c_red
            ax.text(kx, ey, txt, color=col, fontsize=10, fontweight='bold', ha=ha, va='center', zorder=6)
        ax.set_xlim(0, 1)
        ax.set_ylim(lo, hi)
        ax.set_xticks(k_ticks)
        ax.set_xticklabels(k_labels, fontsize=11)
        ax.set_yticks(yt)
        ax.tick_params(axis='x', length=0, pad=5)
        ax.tick_params(axis='y', direction='in', length=2, color=c_spine, pad=2)
        if c == 0:
            ax.set_yticklabels(yl, fontsize=10.5, fontweight='bold')
            ax.set_ylabel('Energy (eV)', fontsize=13, fontweight='bold', labelpad=2)
        else:
            ax.set_yticklabels([])
        for s in ax.spines.values():
            s.set_color(c_spine)
            s.set_linewidth(0.8)
        fig.text((band_x[c] + band_w / 2 + 5) / W, 1 - title_y[r] / H, '\u0394 = ' + deltas[r][c] + ' eV',
                 fontsize=12.5, fontweight='bold', ha='center', va='center')

        # density of states side panel
        dx = fig.add_axes([dos_x[c] / W, bottom, dos_w / W, height])
        w = 0.012 * (hi - lo)
        base = 0.035
        edges = [lo]
        for g0, g1 in sorted(gaps):
            edges += [g0, g1]
        edges.append(hi)
        for i in range(0, len(edges), 2):
            dx.fill_betweenx([edges[i], edges[i + 1]], 0, base, color='black', lw=0, zorder=2)
        dos_peaks(dx, dos_b, 'black', w, base, 2)
        dos_peaks(dx, dos_l, c_dos_blue, w * 0.8, base, 3)
        dx.set_xlim(0, 1)
        dx.set_ylim(lo, hi)
        dx.set_yticks(yt)
        dx.set_xticks([0.33, 0.66])
        dx.tick_params(axis='y', left=False, right=True, direction='in', length=2,
                       color='#c8c8c8', labelleft=False)
        dx.tick_params(axis='x', direction='in', length=2, color='#c8c8c8', labelbottom=False)
        for s in dx.spines.values():
            s.set_color('#c0c0c0')
            s.set_linewidth(0.8)
        dx.spines['left'].set_color('black')

fig.savefig('out.png', dpi=100)
